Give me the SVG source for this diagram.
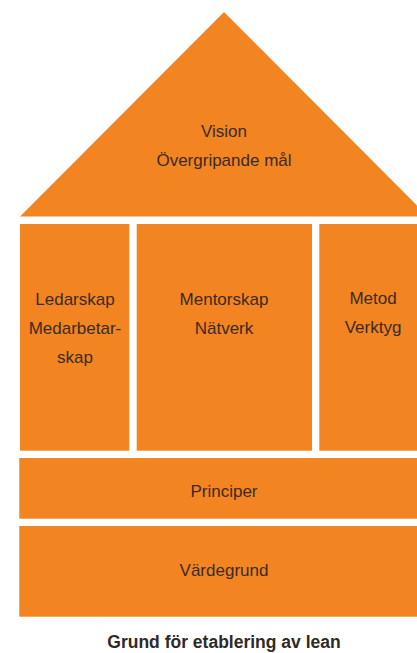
<svg xmlns="http://www.w3.org/2000/svg" width="417" height="653" viewBox="0 0 417 653">
<style>
.b{fill:#F38422}
.t{font-family:"Liberation Sans",Arial,sans-serif;font-size:17px;fill:#3a2c22;text-anchor:middle}
.c{font-family:"Liberation Sans",Arial,sans-serif;font-size:17.5px;font-weight:bold;fill:#2f2a28;text-anchor:middle}
</style>
<rect width="417" height="653" fill="#ffffff"/>
<g id="roof">
<polygon class="b" points="224,12 428,216.5 20,216.5"/>
<text class="t" x="224" y="137">Vision</text>
<text class="t" x="224" y="166">Övergripande mål</text>
</g>
<g id="pillar-left">
<rect class="b" x="20" y="224" width="109.3" height="226.7"/>
<text class="t" x="75" y="305">Ledarskap</text>
<text class="t" x="75" y="334">Medarbetar-</text>
<text class="t" x="75" y="363">skap</text>
</g>
<g id="pillar-middle">
<rect class="b" x="136.7" y="224" width="175.3" height="226.7"/>
<text class="t" x="224" y="305">Mentorskap</text>
<text class="t" x="224" y="334">Nätverk</text>
</g>
<g id="pillar-right">
<rect class="b" x="319.3" y="224" width="97.7" height="226.7"/>
<text class="t" x="373" y="304">Metod</text>
<text class="t" x="373" y="333">Verktyg</text>
</g>
<g id="principer">
<rect class="b" x="19.3" y="458" width="397.7" height="60.7"/>
<text class="t" x="224" y="497">Principer</text>
</g>
<g id="vardegrund">
<rect class="b" x="19.3" y="526" width="397.7" height="90.7"/>
<text class="t" x="224" y="576">Värdegrund</text>
</g>
<g id="connectors"/>
<g id="caption">
<text class="c" x="224" y="648">Grund för etablering av lean</text>
</g>
</svg>
